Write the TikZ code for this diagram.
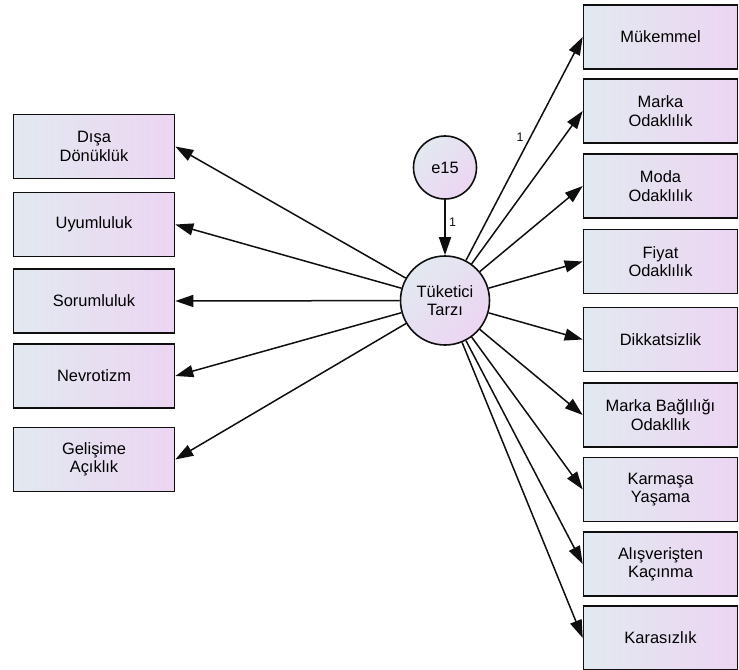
\documentclass[tikz,border=0pt]{standalone}
\usepackage{fontspec}
\setmainfont{Liberation Sans}
\usetikzlibrary{arrows.meta}
\definecolor{csol}{RGB}{226,233,240}
\definecolor{csag}{RGB}{236,213,242}
\definecolor{ccizgi}{RGB}{15,15,15}

\begin{document}
\begin{tikzpicture}[x=1bp, y=-1bp, >={Triangle[length=18bp, width=12bp]},
    font=\fontsize{16.5}{18.5}\selectfont,
    gozlenen/.style={draw=ccizgi, line width=1.6bp, left color=csol, right color=csag, minimum height=64bp, align=center, inner sep=2bp},
    gizil/.style={draw=ccizgi, line width=1.6bp, circle, left color=csol, right color=csag, shading angle=45, align=center, inner sep=0pt},
    yol/.style={->, line width=1.5bp, ccizgi},
    katsayi/.style={font=\fontsize{12.5}{14}\selectfont}]

  \useasboundingbox (0,0) rectangle (739,670);

  \node[gizil, minimum size=89bp] (tuk) at (445,300.5) {Tüketici\\Tarzı};
  \node[gizil, minimum size=63bp] (e15) at (445,167.5) {e15};

  % kişilik özellikleri (sol)
  \node[gozlenen, minimum width=161bp] (dis) at (94,146.5) {Dışa\\Dönüklük};
  \node[gozlenen, minimum width=161bp] (uyum) at (94,224.5) {Uyumluluk};
  \node[gozlenen, minimum width=161bp] (sor) at (94,301) {Sorumluluk};
  \node[gozlenen, minimum width=161bp] (nev) at (94,376) {Nevrotizm};
  \node[gozlenen, minimum width=161bp] (gel) at (94,459.5) {Gelişime\\Açıklık};

  % tüketici karar tarzları (sağ)
  \node[gozlenen, minimum width=154bp] (muk) at (660.5,37) {Mükemmel};
  \node[gozlenen, minimum width=154bp] (marka) at (660.5,111) {Marka\\Odaklılık};
  \node[gozlenen, minimum width=154bp] (moda) at (660.5,186) {Moda\\Odaklılık};
  \node[gozlenen, minimum width=154bp] (fiyat) at (660.5,261.5) {Fiyat\\Odaklılık};
  \node[gozlenen, minimum width=154bp] (dikkat) at (660.5,339.5) {Dikkatsizlik};
  \node[gozlenen, minimum width=154bp] (bag) at (660.5,415) {Marka Bağlılığı\\Odakllık};
  \node[gozlenen, minimum width=154bp] (karm) at (660.5,489.5) {Karmaşa\\Yaşama};
  \node[gozlenen, minimum width=154bp] (alis) at (660.5,564) {Alışverişten\\Kaçınma};
  \node[gozlenen, minimum width=154bp] (kar) at (660.5,638) {Karasızlık};

  % hata terimi
  \draw[yol] (e15) -- node[right, katsayi, pos=0.4]{1} (tuk);

  % sol yollar
  \draw[yol] (tuk) -- (dis.east);
  \draw[yol] (tuk) -- (uyum.east);
  \draw[yol] (tuk) -- (sor.east);
  \draw[yol] (tuk) -- (nev.east);
  \draw[yol] (tuk) -- (gel.east);

  % sağ yollar
  \draw[yol] (tuk) -- node[pos=0.55, left, inner sep=6bp, katsayi]{1} (muk.west);
  \draw[yol] (tuk) -- (marka.west);
  \draw[yol] (tuk) -- (moda.west);
  \draw[yol] (tuk) -- (fiyat.west);
  \draw[yol] (tuk) -- (dikkat.west);
  \draw[yol] (tuk) -- (bag.west);
  \draw[yol] (tuk) -- (karm.west);
  \draw[yol] (tuk) -- (alis.west);
  \draw[yol] (tuk) -- (kar.west);
\end{tikzpicture}
\end{document}
